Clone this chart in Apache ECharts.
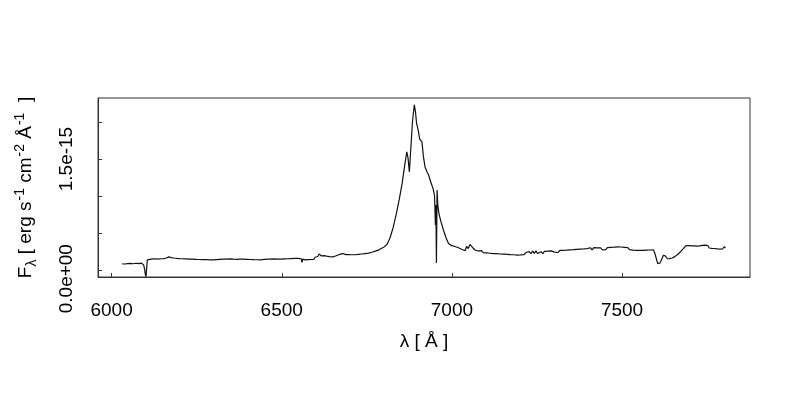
<!DOCTYPE html>
<html>
<head>
<meta charset="utf-8">
<script src="https://cdn.jsdelivr.net/npm/echarts@6/dist/echarts.min.js"></script>
<style>html,body{margin:0;padding:0;background:#fff}#c{width:800px;height:400px}</style>
</head>
<body>
<div id="c"></div>
<script>
// wavelength in Angstrom
var wavelength = [
6031,6035,6039,6043,6047,6051,6055,6059,6063,6067,6071,6075,6079,6083,6087,6091,6094,6097,6099,6101,6104,6105,
6109,6113,6117,6121,6125,6129,6133,6137,6141,6145,6149,6153,6157,6161,6165,6168,6171,6175,6179,6183,6187,6191,6195,6199,
6203,6208,6213,6218,6223,6228,6233,6238,6243,6248,6253,6258,6263,6268,6273,6278,6283,6288,6293,6298,
6303,6308,6313,6318,6323,6328,6333,6338,6343,6348,6353,6358,6363,6368,6373,6378,6383,6388,6393,6398,
6403,6408,6413,6418,6423,6428,6433,6438,6443,6448,6453,6458,6463,6468,6473,6478,6483,6488,6493,6498,
6503,6508,6513,6518,6523,6528,6533,6538,6543,6548,6553,6557,6560,6562,6566,6570,6574,6578,6582,6586,6590,6594,6598,
6602,6606,6610,6613,6616,6620,6624,6628,6632,6636,6640,6645,6650,6655,6660,6665,6670,6675,6680,6684,6688,6692,6696,
6700,6705,6710,6715,6720,6725,6730,6735,6740,6745,6750,6755,6760,6765,6770,6775,6780,6785,6789,
6801,6810,6818,6827,6836,6845,6854,6861,6867.5,6871,6875,6879,6884,6889.5,6893,6896,6902,6905,6909,6912,6916,6921,6927,6931.5,6938,6945,6949,
6951.5,6953,6954.5,6956.5,6958.6,6962,6968,6975,6983,6990,6998,7009,7021,7030,7039,7043,7048,7053,7058,7062,7068,7077,
7082,7087,7092,7097,7102,7107,7112,7117,7122,7127,7132,7137,7142,7147,7152,7157,7162,7167,7172,7177,7182,7187,7192,7197,
7202,7207,7212,7217,7222,7227,7232,7237,7242,7247,7252,7257,7262,7267,7272,7277,7282,7287,7292,7297,
7302,7307,7312,7317,7322,7327,7332,7337,7342,7347,7352,7357,7362,7367,7372,7377,7382,7387,7392,7397,
7402,7407,7412,7417,7422,7427,7432,7437,7442,7447,7452,7457,7462,7467,7472,7477,7482,7487,7492,7497,
7502,7507,7512,7517,7522,7527,7532,7537,7542,7547,7552,7557,7562,7567,7572,7577,7582,7587,7592,7596,7599,
7602,7605,7607,7610,7612,7615,7618,7621,7624,7627,7630,7633,7636,7640,7644,7648,7652,7656,7660,7664,7668,7672,7676,
7680,7684,7688,7692,7696,7700,7704,7708,7712,7716,7720,7724,7728,7732,7736,7740,7744,7748,7752,7756,7760,7764,7768,
7772,7776,7780,7784,7788,7792,7796,7800,7804
];
// flux in units of 1e-16 erg s^-1 cm^-2 A^-1
var flux = [
0.92,1.08,0.90,1.12,0.95,1.15,0.98,1.12,0.93,1.18,1.00,1.14,0.95,1.12,1.02,0.92,0.78,0.20,-0.50,-0.80,-0.80,1.45,
1.30,1.52,1.36,1.58,1.40,1.60,1.42,1.55,1.36,1.60,1.44,1.62,1.46,1.70,1.78,1.85,1.60,1.76,1.55,1.70,1.50,1.65,1.48,1.62,
1.42,1.60,1.40,1.58,1.38,1.56,1.35,1.55,1.34,1.52,1.30,1.50,1.28,1.48,1.30,1.50,1.25,1.46,1.24,1.44,
1.26,1.48,1.30,1.52,1.32,1.55,1.34,1.56,1.33,1.58,1.35,1.54,1.30,1.52,1.32,1.56,1.34,1.54,1.28,1.52,
1.28,1.50,1.26,1.48,1.25,1.47,1.24,1.46,1.28,1.52,1.30,1.55,1.32,1.56,1.34,1.58,1.36,1.55,1.30,1.54,
1.32,1.58,1.36,1.60,1.38,1.62,1.40,1.64,1.42,1.66,1.44,1.60,1.10,1.55,1.68,1.46,1.70,1.48,1.74,1.50,1.76,1.52,1.80,
1.60,1.90,2.25,2.42,2.00,1.84,2.02,1.76,1.95,1.72,1.90,1.68,1.86,1.78,2.00,1.95,2.18,2.08,2.30,2.05,2.15,1.95,2.16,
2.00,2.14,1.94,2.14,1.96,2.18,2.00,2.24,2.08,2.30,2.14,2.36,2.22,2.48,2.44,2.62,2.58,2.80,2.85,
3.19,3.59,4.39,5.74,7.49,9.50,11.79,14.07,15.95,15.15,13.27,16.22,19.98,22.27,21.33,19.85,18.64,17.70,17.83,17.30,15.42,13.94,13.27,12.86,11.92,10.98,10.04,
6.14,8.83,1.03,10.85,8.83,7.62,6.55,5.47,4.39,3.66,3.39,3.25,3.05,2.85,2.69,3.25,2.98,3.52,3.45,3.05,2.78,2.65,
2.45,2.70,2.42,2.66,2.38,2.62,2.34,2.58,2.30,2.56,2.28,2.52,2.24,2.48,2.22,2.46,2.20,2.44,2.16,2.40,2.14,2.38,2.10,2.34,
2.12,2.38,2.16,2.44,2.20,2.55,2.28,2.65,2.32,2.66,2.30,2.22,2.55,2.28,2.58,2.34,2.62,2.38,2.66,2.40,
2.50,2.70,2.44,2.72,2.46,2.74,2.50,2.76,2.54,2.80,2.56,2.82,2.60,2.86,2.62,2.90,2.66,2.92,2.70,2.96,
2.78,3.08,2.80,3.10,2.85,3.06,2.80,3.08,2.78,3.04,2.82,3.10,2.86,3.14,2.88,3.16,2.92,3.20,2.96,3.18,
2.96,3.14,2.88,3.10,2.82,3.02,2.76,3.00,2.72,2.96,2.74,2.94,2.72,2.95,2.76,2.98,2.78,3.00,2.80,2.40,1.90,
1.40,0.95,0.77,0.90,1.05,1.30,1.70,2.05,2.24,2.00,1.78,1.60,1.53,1.62,1.58,1.70,1.78,1.92,2.05,2.20,2.40,2.55,2.75,
2.95,3.10,3.36,3.12,3.36,3.10,3.34,3.08,3.32,3.06,3.30,3.08,3.34,3.12,3.40,3.14,3.42,3.16,3.38,3.05,3.28,3.00,3.24,
2.98,3.20,2.92,3.18,2.90,3.16,2.94,3.22,3.02
];
var xTickValues = [6000, 6500, 7000, 7500];
var xTickLabels = ['6000', '6500', '7000', '7500'];
var yTickValues = [0, 5, 10, 15, 20];
var yLabelValues = [0, 15];
var yLabelTexts = ['0.0e+00', '1.5e-15'];

var pts = wavelength.map(function (w, i) { return [w, flux[i]]; });
var FONT = 'Liberation Sans, Arial, Helvetica, sans-serif';
var chart = echarts.init(document.getElementById('c'), null, {renderer: 'canvas'});
chart.setOption({
  animation: false,
  backgroundColor: '#fff',
  grid: {left: 98, right: 50, top: 98, bottom: 123, show: true, borderColor: '#333', borderWidth: 1,
    backgroundColor: 'transparent', containLabel: false, outerBoundsMode: 'none'},
  xAxis: {
    type: 'value', min: 5960, max: 7876,
    axisLine: {show: true, onZero: false, lineStyle: {color: '#333', width: 1}},
    axisTick: {show: true, inside: true, length: 4, customValues: xTickValues, lineStyle: {color: '#333'}},
    axisLabel: {show: true, customValues: xTickValues, margin: 24, fontSize: 19, color: '#000', fontFamily: FONT,
      formatter: function (v) { var i = xTickValues.indexOf(v); return i >= 0 ? xTickLabels[i] : ''; }},
    splitLine: {show: false},
    name: 'λ [ Å ]', nameLocation: 'middle', nameGap: 55,
    nameTextStyle: {fontSize: 19, color: '#000', fontFamily: FONT}
  },
  yAxis: {
    type: 'value', min: -0.85, max: 23.2,
    axisLine: {show: true, onZero: false, lineStyle: {color: '#333', width: 1}},
    axisTick: {show: true, inside: true, length: 4, customValues: yTickValues, lineStyle: {color: '#333'}},
    axisLabel: {show: true, customValues: yLabelValues, rotate: 90, margin: 22, fontSize: 19, color: '#000', fontFamily: FONT,
      formatter: function (v) {
        var i = yLabelValues.indexOf(v);
        if (i < 0) return '';
        return i === 0 ? '{lo|' + yLabelTexts[i] + '}' : yLabelTexts[i];
      },
      rich: {lo: {fontSize: 19, fontFamily: FONT, color: '#000', padding: [0, 16, 0, 0]}}
    },
    splitLine: {show: false},
    name: '{t|F}{sub|λ}{t| [ erg s}{sup|-1}{t| cm}{sup|-2}{t| Å}{sup|-1}{t|  ]}',
    nameLocation: 'middle', nameRotate: 90, nameGap: 57,
    nameTextStyle: {
      fontFamily: FONT, color: '#000',
      rich: {
        t: {fontSize: 19, fontFamily: FONT, color: '#000', lineHeight: 30, verticalAlign: 'middle'},
        sup: {fontSize: 14, fontFamily: FONT, color: '#000', lineHeight: 30, verticalAlign: 'top', padding: [2, 0, 0, 1]},
        sub: {fontSize: 14, fontFamily: FONT, color: '#000', lineHeight: 30, verticalAlign: 'bottom', padding: [0, 0, 2, 0]}
      }
    }
  },
  series: [{
    type: 'line', data: pts, showSymbol: false, symbol: 'none', clip: true,
    lineStyle: {width: 1.2, color: '#111'}
  }]
});
</script>
</body>
</html>
